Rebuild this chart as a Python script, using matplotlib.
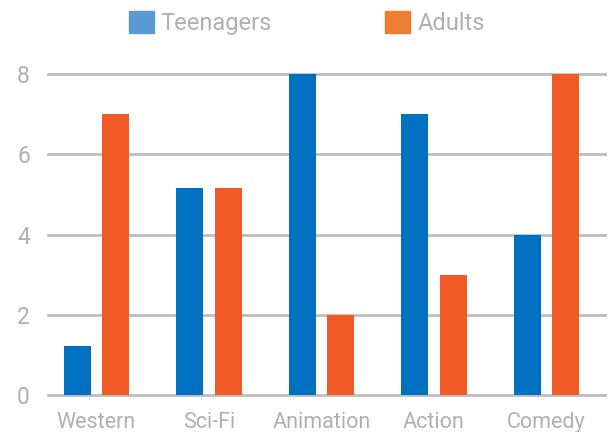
import numpy as np
import matplotlib.pyplot as plt
from matplotlib.patches import Patch

genres = ['Western', 'Sci-Fi', 'Animation', 'Action', 'Comedy']
teenagers = [1.22, 5.15, 8, 7, 4]
adults = [7, 5.15, 2, 3, 8]

blue = '#0070c0'
orange = '#f15a24'
grey = '#b0b0b0'

plt.rcParams['font.family'] = ['Roboto', 'DejaVu Sans']

fig = plt.figure(figsize=(6.1, 4.32), dpi=100)
ax = fig.add_axes([48/610, 37/432, 557/610, 321/432])

x = np.arange(len(genres))
w = 0.24
ax.bar(x - 0.17, teenagers, w, color=blue, zorder=3)
ax.bar(x + 0.17, adults, w, color=orange, zorder=3)

ax.set_xlim(-0.43, 4.52)
ax.set_ylim(0, 8)
ax.set_yticks([0, 2, 4, 6, 8])
ax.set_xticks(x)
ax.set_xticklabels(genres)
ax.grid(axis='y', color='#bdbdbd', linewidth=2, zorder=0)
for gl in ax.get_ygridlines():
    gl.set_clip_on(False)
for s in ax.spines.values():
    s.set_visible(False)
ax.tick_params(length=0, colors=grey)
ax.tick_params(axis='y', labelsize=16.5, pad=13)
ax.tick_params(axis='x', labelsize=15.5, pad=12)

handles = [Patch(color='#5b9bd5', label='Teenagers'),
           Patch(color='#ed7d31', label='Adults')]
leg = fig.legend(handles=handles, loc='center', bbox_to_anchor=(0.503, 0.946),
                 ncol=2, frameon=False, fontsize=17, handlelength=1.05,
                 handleheight=1.05, handletextpad=0.3, columnspacing=4.8)
for t in leg.get_texts():
    t.set_color(grey)

fig.savefig('out.png', dpi=100)
